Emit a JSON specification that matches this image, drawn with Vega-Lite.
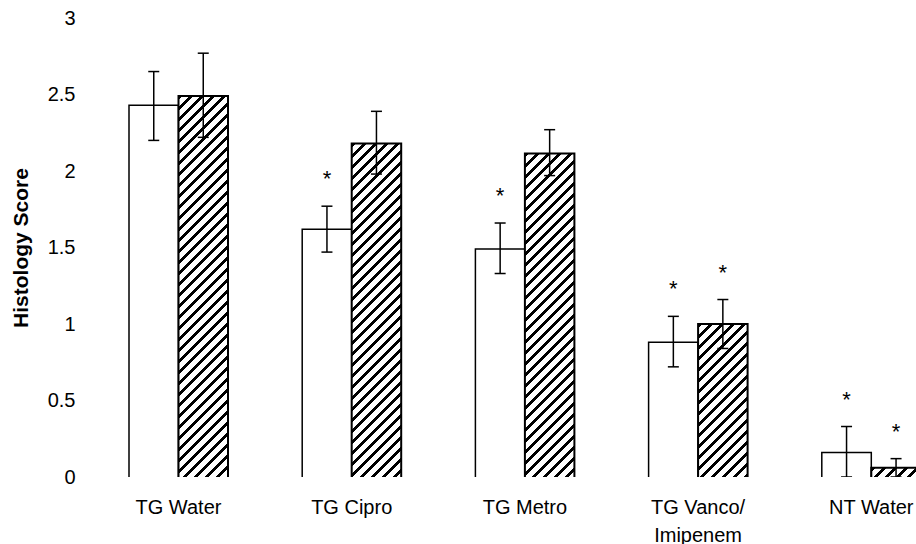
{
  "$schema": "https://vega.github.io/schema/vega-lite/v6.json",
  "width": 825,
  "height": 459,
  "autosize": {"type": "none"},
  "padding": {"left": 91, "top": 18, "right": 0, "bottom": 67},
  "background": "white",
  "config": {"view": {"stroke": null}, "font": "Liberation Sans"},
  "data": {"values": [
    {"cat": "TG Water", "grp": "A", "mean": 2.43, "lo": 2.2, "hi": 2.65, "sig": ""},
    {"cat": "TG Water", "grp": "B", "mean": 2.49, "lo": 2.22, "hi": 2.77, "sig": ""},
    {"cat": "TG Cipro", "grp": "A", "mean": 1.62, "lo": 1.47, "hi": 1.77, "sig": "*"},
    {"cat": "TG Cipro", "grp": "B", "mean": 2.18, "lo": 1.98, "hi": 2.39, "sig": ""},
    {"cat": "TG Metro", "grp": "A", "mean": 1.49, "lo": 1.33, "hi": 1.66, "sig": "*"},
    {"cat": "TG Metro", "grp": "B", "mean": 2.115, "lo": 1.97, "hi": 2.27, "sig": ""},
    {"cat": "TG Vanco/Imipenem", "grp": "A", "mean": 0.88, "lo": 0.72, "hi": 1.05, "sig": "*"},
    {"cat": "TG Vanco/Imipenem", "grp": "B", "mean": 1.0, "lo": 0.84, "hi": 1.16, "sig": "*"},
    {"cat": "NT Water", "grp": "A", "mean": 0.16, "lo": 0.0, "hi": 0.33, "sig": "*"},
    {"cat": "NT Water", "grp": "B", "mean": 0.06, "lo": 0.0, "hi": 0.12, "sig": "*"}
  ]},
  "encoding": {
    "x": {
      "field": "cat", "type": "nominal", "sort": null,
      "scale": {"range": [38, 829.8], "paddingInner": 0.4284, "paddingOuter": 0},
      "axis": {
        "title": null, "labelAngle": 0, "labelFontSize": 20, "labelColor": "black",
        "labelPadding": 20, "ticks": false, "domain": false, "grid": false,
        "labelLineHeight": 28,
        "labelExpr": "datum.label === 'TG Vanco/Imipenem' ? ['TG Vanco/', 'Imipenem'] : datum.label"
      }
    },
    "xOffset": {"field": "grp", "type": "nominal", "scale": {"paddingInner": 0, "paddingOuter": 0}}
  },
  "layer": [
    {
      "transform": [{"filter": "datum.grp === 'A'"}],
      "mark": {"type": "bar", "fill": "white", "stroke": "black", "strokeWidth": 1.5, "clip": true},
      "encoding": {
        "y": {
          "field": "mean", "type": "quantitative",
          "scale": {"domain": [0, 3], "nice": false, "zero": false},
          "axis": {
            "values": [0, 0.5, 1, 1.5, 2, 2.5, 3], "format": "~g",
            "title": "Histology Score", "titleFontSize": 21, "titleFontWeight": "bold",
            "titleColor": "black", "titleX": -70, "titleBaseline": "middle",
            "labelFontSize": 20, "labelColor": "black", "labelPadding": 16,
            "ticks": false, "domain": false, "grid": false
          }
        },
        "y2": {"datum": -0.02}
      }
    },
    {
      "transform": [{"filter": "datum.grp === 'B'"}],
      "mark": {"type": "bar", "stroke": "black", "strokeWidth": 2, "clip": true},
      "encoding": {
        "y": {"field": "mean", "type": "quantitative"},
        "y2": {"datum": -0.02},
        "fill": {
          "condition": [
            {"test": "datum.cat === 'TG Water'", "value": {"gradient": "linear", "x1": 0, "y1": 0, "x2": 0.14529, "y2": 1.12711, "stops": [
{"offset":0,"color":"#000"},{"offset":0.01,"color":"#000"},{"offset":0.01,"color":"#fff"},{"offset":0.025,"color":"#fff"},
{"offset":0.025,"color":"#000"},{"offset":0.035,"color":"#000"},{"offset":0.035,"color":"#fff"},{"offset":0.05,"color":"#fff"},
{"offset":0.05,"color":"#000"},{"offset":0.06,"color":"#000"},{"offset":0.06,"color":"#fff"},{"offset":0.075,"color":"#fff"},
{"offset":0.075,"color":"#000"},{"offset":0.085,"color":"#000"},{"offset":0.085,"color":"#fff"},{"offset":0.1,"color":"#fff"},
{"offset":0.1,"color":"#000"},{"offset":0.11,"color":"#000"},{"offset":0.11,"color":"#fff"},{"offset":0.125,"color":"#fff"},
{"offset":0.125,"color":"#000"},{"offset":0.135,"color":"#000"},{"offset":0.135,"color":"#fff"},{"offset":0.15,"color":"#fff"},
{"offset":0.15,"color":"#000"},{"offset":0.16,"color":"#000"},{"offset":0.16,"color":"#fff"},{"offset":0.175,"color":"#fff"},
{"offset":0.175,"color":"#000"},{"offset":0.185,"color":"#000"},{"offset":0.185,"color":"#fff"},{"offset":0.2,"color":"#fff"},
{"offset":0.2,"color":"#000"},{"offset":0.21,"color":"#000"},{"offset":0.21,"color":"#fff"},{"offset":0.225,"color":"#fff"},
{"offset":0.225,"color":"#000"},{"offset":0.235,"color":"#000"},{"offset":0.235,"color":"#fff"},{"offset":0.25,"color":"#fff"},
{"offset":0.25,"color":"#000"},{"offset":0.26,"color":"#000"},{"offset":0.26,"color":"#fff"},{"offset":0.275,"color":"#fff"},
{"offset":0.275,"color":"#000"},{"offset":0.285,"color":"#000"},{"offset":0.285,"color":"#fff"},{"offset":0.3,"color":"#fff"},
{"offset":0.3,"color":"#000"},{"offset":0.31,"color":"#000"},{"offset":0.31,"color":"#fff"},{"offset":0.325,"color":"#fff"},
{"offset":0.325,"color":"#000"},{"offset":0.335,"color":"#000"},{"offset":0.335,"color":"#fff"},{"offset":0.35,"color":"#fff"},
{"offset":0.35,"color":"#000"},{"offset":0.36,"color":"#000"},{"offset":0.36,"color":"#fff"},{"offset":0.375,"color":"#fff"},
{"offset":0.375,"color":"#000"},{"offset":0.385,"color":"#000"},{"offset":0.385,"color":"#fff"},{"offset":0.4,"color":"#fff"},
{"offset":0.4,"color":"#000"},{"offset":0.41,"color":"#000"},{"offset":0.41,"color":"#fff"},{"offset":0.425,"color":"#fff"},
{"offset":0.425,"color":"#000"},{"offset":0.435,"color":"#000"},{"offset":0.435,"color":"#fff"},{"offset":0.45,"color":"#fff"},
{"offset":0.45,"color":"#000"},{"offset":0.46,"color":"#000"},{"offset":0.46,"color":"#fff"},{"offset":0.475,"color":"#fff"},
{"offset":0.475,"color":"#000"},{"offset":0.485,"color":"#000"},{"offset":0.485,"color":"#fff"},{"offset":0.5,"color":"#fff"},
{"offset":0.5,"color":"#000"},{"offset":0.51,"color":"#000"},{"offset":0.51,"color":"#fff"},{"offset":0.525,"color":"#fff"},
{"offset":0.525,"color":"#000"},{"offset":0.535,"color":"#000"},{"offset":0.535,"color":"#fff"},{"offset":0.55,"color":"#fff"},
{"offset":0.55,"color":"#000"},{"offset":0.56,"color":"#000"},{"offset":0.56,"color":"#fff"},{"offset":0.575,"color":"#fff"},
{"offset":0.575,"color":"#000"},{"offset":0.585,"color":"#000"},{"offset":0.585,"color":"#fff"},{"offset":0.6,"color":"#fff"},
{"offset":0.6,"color":"#000"},{"offset":0.61,"color":"#000"},{"offset":0.61,"color":"#fff"},{"offset":0.625,"color":"#fff"},
{"offset":0.625,"color":"#000"},{"offset":0.635,"color":"#000"},{"offset":0.635,"color":"#fff"},{"offset":0.65,"color":"#fff"},
{"offset":0.65,"color":"#000"},{"offset":0.66,"color":"#000"},{"offset":0.66,"color":"#fff"},{"offset":0.675,"color":"#fff"},
{"offset":0.675,"color":"#000"},{"offset":0.685,"color":"#000"},{"offset":0.685,"color":"#fff"},{"offset":0.7,"color":"#fff"},
{"offset":0.7,"color":"#000"},{"offset":0.71,"color":"#000"},{"offset":0.71,"color":"#fff"},{"offset":0.725,"color":"#fff"},
{"offset":0.725,"color":"#000"},{"offset":0.735,"color":"#000"},{"offset":0.735,"color":"#fff"},{"offset":0.75,"color":"#fff"},
{"offset":0.75,"color":"#000"},{"offset":0.76,"color":"#000"},{"offset":0.76,"color":"#fff"},{"offset":0.775,"color":"#fff"},
{"offset":0.775,"color":"#000"},{"offset":0.785,"color":"#000"},{"offset":0.785,"color":"#fff"},{"offset":0.8,"color":"#fff"},
{"offset":0.8,"color":"#000"},{"offset":0.81,"color":"#000"},{"offset":0.81,"color":"#fff"},{"offset":0.825,"color":"#fff"},
{"offset":0.825,"color":"#000"},{"offset":0.835,"color":"#000"},{"offset":0.835,"color":"#fff"},{"offset":0.85,"color":"#fff"},
{"offset":0.85,"color":"#000"},{"offset":0.86,"color":"#000"},{"offset":0.86,"color":"#fff"},{"offset":0.875,"color":"#fff"},
{"offset":0.875,"color":"#000"},{"offset":0.885,"color":"#000"},{"offset":0.885,"color":"#fff"},{"offset":0.9,"color":"#fff"},
{"offset":0.9,"color":"#000"},{"offset":0.91,"color":"#000"},{"offset":0.91,"color":"#fff"},{"offset":0.925,"color":"#fff"},
{"offset":0.925,"color":"#000"},{"offset":0.935,"color":"#000"},{"offset":0.935,"color":"#fff"},{"offset":0.95,"color":"#fff"},
{"offset":0.95,"color":"#000"},{"offset":0.96,"color":"#000"},{"offset":0.96,"color":"#fff"},{"offset":0.975,"color":"#fff"},
{"offset":0.975,"color":"#000"},{"offset":0.985,"color":"#000"},{"offset":0.985,"color":"#fff"},{"offset":1,"color":"#fff"}
            ]}},
            {"test": "datum.cat === 'TG Cipro'", "value": {"gradient": "linear", "x1": 0, "y1": 0, "x2": 0.18827, "y2": 1.27988, "stops": [
{"offset":0,"color":"#000"},{"offset":0.01,"color":"#000"},{"offset":0.01,"color":"#fff"},{"offset":0.025,"color":"#fff"},
{"offset":0.025,"color":"#000"},{"offset":0.035,"color":"#000"},{"offset":0.035,"color":"#fff"},{"offset":0.05,"color":"#fff"},
{"offset":0.05,"color":"#000"},{"offset":0.06,"color":"#000"},{"offset":0.06,"color":"#fff"},{"offset":0.075,"color":"#fff"},
{"offset":0.075,"color":"#000"},{"offset":0.085,"color":"#000"},{"offset":0.085,"color":"#fff"},{"offset":0.1,"color":"#fff"},
{"offset":0.1,"color":"#000"},{"offset":0.11,"color":"#000"},{"offset":0.11,"color":"#fff"},{"offset":0.125,"color":"#fff"},
{"offset":0.125,"color":"#000"},{"offset":0.135,"color":"#000"},{"offset":0.135,"color":"#fff"},{"offset":0.15,"color":"#fff"},
{"offset":0.15,"color":"#000"},{"offset":0.16,"color":"#000"},{"offset":0.16,"color":"#fff"},{"offset":0.175,"color":"#fff"},
{"offset":0.175,"color":"#000"},{"offset":0.185,"color":"#000"},{"offset":0.185,"color":"#fff"},{"offset":0.2,"color":"#fff"},
{"offset":0.2,"color":"#000"},{"offset":0.21,"color":"#000"},{"offset":0.21,"color":"#fff"},{"offset":0.225,"color":"#fff"},
{"offset":0.225,"color":"#000"},{"offset":0.235,"color":"#000"},{"offset":0.235,"color":"#fff"},{"offset":0.25,"color":"#fff"},
{"offset":0.25,"color":"#000"},{"offset":0.26,"color":"#000"},{"offset":0.26,"color":"#fff"},{"offset":0.275,"color":"#fff"},
{"offset":0.275,"color":"#000"},{"offset":0.285,"color":"#000"},{"offset":0.285,"color":"#fff"},{"offset":0.3,"color":"#fff"},
{"offset":0.3,"color":"#000"},{"offset":0.31,"color":"#000"},{"offset":0.31,"color":"#fff"},{"offset":0.325,"color":"#fff"},
{"offset":0.325,"color":"#000"},{"offset":0.335,"color":"#000"},{"offset":0.335,"color":"#fff"},{"offset":0.35,"color":"#fff"},
{"offset":0.35,"color":"#000"},{"offset":0.36,"color":"#000"},{"offset":0.36,"color":"#fff"},{"offset":0.375,"color":"#fff"},
{"offset":0.375,"color":"#000"},{"offset":0.385,"color":"#000"},{"offset":0.385,"color":"#fff"},{"offset":0.4,"color":"#fff"},
{"offset":0.4,"color":"#000"},{"offset":0.41,"color":"#000"},{"offset":0.41,"color":"#fff"},{"offset":0.425,"color":"#fff"},
{"offset":0.425,"color":"#000"},{"offset":0.435,"color":"#000"},{"offset":0.435,"color":"#fff"},{"offset":0.45,"color":"#fff"},
{"offset":0.45,"color":"#000"},{"offset":0.46,"color":"#000"},{"offset":0.46,"color":"#fff"},{"offset":0.475,"color":"#fff"},
{"offset":0.475,"color":"#000"},{"offset":0.485,"color":"#000"},{"offset":0.485,"color":"#fff"},{"offset":0.5,"color":"#fff"},
{"offset":0.5,"color":"#000"},{"offset":0.51,"color":"#000"},{"offset":0.51,"color":"#fff"},{"offset":0.525,"color":"#fff"},
{"offset":0.525,"color":"#000"},{"offset":0.535,"color":"#000"},{"offset":0.535,"color":"#fff"},{"offset":0.55,"color":"#fff"},
{"offset":0.55,"color":"#000"},{"offset":0.56,"color":"#000"},{"offset":0.56,"color":"#fff"},{"offset":0.575,"color":"#fff"},
{"offset":0.575,"color":"#000"},{"offset":0.585,"color":"#000"},{"offset":0.585,"color":"#fff"},{"offset":0.6,"color":"#fff"},
{"offset":0.6,"color":"#000"},{"offset":0.61,"color":"#000"},{"offset":0.61,"color":"#fff"},{"offset":0.625,"color":"#fff"},
{"offset":0.625,"color":"#000"},{"offset":0.635,"color":"#000"},{"offset":0.635,"color":"#fff"},{"offset":0.65,"color":"#fff"},
{"offset":0.65,"color":"#000"},{"offset":0.66,"color":"#000"},{"offset":0.66,"color":"#fff"},{"offset":0.675,"color":"#fff"},
{"offset":0.675,"color":"#000"},{"offset":0.685,"color":"#000"},{"offset":0.685,"color":"#fff"},{"offset":0.7,"color":"#fff"},
{"offset":0.7,"color":"#000"},{"offset":0.71,"color":"#000"},{"offset":0.71,"color":"#fff"},{"offset":0.725,"color":"#fff"},
{"offset":0.725,"color":"#000"},{"offset":0.735,"color":"#000"},{"offset":0.735,"color":"#fff"},{"offset":0.75,"color":"#fff"},
{"offset":0.75,"color":"#000"},{"offset":0.76,"color":"#000"},{"offset":0.76,"color":"#fff"},{"offset":0.775,"color":"#fff"},
{"offset":0.775,"color":"#000"},{"offset":0.785,"color":"#000"},{"offset":0.785,"color":"#fff"},{"offset":0.8,"color":"#fff"},
{"offset":0.8,"color":"#000"},{"offset":0.81,"color":"#000"},{"offset":0.81,"color":"#fff"},{"offset":0.825,"color":"#fff"},
{"offset":0.825,"color":"#000"},{"offset":0.835,"color":"#000"},{"offset":0.835,"color":"#fff"},{"offset":0.85,"color":"#fff"},
{"offset":0.85,"color":"#000"},{"offset":0.86,"color":"#000"},{"offset":0.86,"color":"#fff"},{"offset":0.875,"color":"#fff"},
{"offset":0.875,"color":"#000"},{"offset":0.885,"color":"#000"},{"offset":0.885,"color":"#fff"},{"offset":0.9,"color":"#fff"}
            ]}},
            {"test": "datum.cat === 'TG Metro'", "value": {"gradient": "linear", "x1": 0, "y1": 0, "x2": 0.1996, "y2": 1.31696, "stops": [
{"offset":0,"color":"#000"},{"offset":0.01,"color":"#000"},{"offset":0.01,"color":"#fff"},{"offset":0.025,"color":"#fff"},
{"offset":0.025,"color":"#000"},{"offset":0.035,"color":"#000"},{"offset":0.035,"color":"#fff"},{"offset":0.05,"color":"#fff"},
{"offset":0.05,"color":"#000"},{"offset":0.06,"color":"#000"},{"offset":0.06,"color":"#fff"},{"offset":0.075,"color":"#fff"},
{"offset":0.075,"color":"#000"},{"offset":0.085,"color":"#000"},{"offset":0.085,"color":"#fff"},{"offset":0.1,"color":"#fff"},
{"offset":0.1,"color":"#000"},{"offset":0.11,"color":"#000"},{"offset":0.11,"color":"#fff"},{"offset":0.125,"color":"#fff"},
{"offset":0.125,"color":"#000"},{"offset":0.135,"color":"#000"},{"offset":0.135,"color":"#fff"},{"offset":0.15,"color":"#fff"},
{"offset":0.15,"color":"#000"},{"offset":0.16,"color":"#000"},{"offset":0.16,"color":"#fff"},{"offset":0.175,"color":"#fff"},
{"offset":0.175,"color":"#000"},{"offset":0.185,"color":"#000"},{"offset":0.185,"color":"#fff"},{"offset":0.2,"color":"#fff"},
{"offset":0.2,"color":"#000"},{"offset":0.21,"color":"#000"},{"offset":0.21,"color":"#fff"},{"offset":0.225,"color":"#fff"},
{"offset":0.225,"color":"#000"},{"offset":0.235,"color":"#000"},{"offset":0.235,"color":"#fff"},{"offset":0.25,"color":"#fff"},
{"offset":0.25,"color":"#000"},{"offset":0.26,"color":"#000"},{"offset":0.26,"color":"#fff"},{"offset":0.275,"color":"#fff"},
{"offset":0.275,"color":"#000"},{"offset":0.285,"color":"#000"},{"offset":0.285,"color":"#fff"},{"offset":0.3,"color":"#fff"},
{"offset":0.3,"color":"#000"},{"offset":0.31,"color":"#000"},{"offset":0.31,"color":"#fff"},{"offset":0.325,"color":"#fff"},
{"offset":0.325,"color":"#000"},{"offset":0.335,"color":"#000"},{"offset":0.335,"color":"#fff"},{"offset":0.35,"color":"#fff"},
{"offset":0.35,"color":"#000"},{"offset":0.36,"color":"#000"},{"offset":0.36,"color":"#fff"},{"offset":0.375,"color":"#fff"},
{"offset":0.375,"color":"#000"},{"offset":0.385,"color":"#000"},{"offset":0.385,"color":"#fff"},{"offset":0.4,"color":"#fff"},
{"offset":0.4,"color":"#000"},{"offset":0.41,"color":"#000"},{"offset":0.41,"color":"#fff"},{"offset":0.425,"color":"#fff"},
{"offset":0.425,"color":"#000"},{"offset":0.435,"color":"#000"},{"offset":0.435,"color":"#fff"},{"offset":0.45,"color":"#fff"},
{"offset":0.45,"color":"#000"},{"offset":0.46,"color":"#000"},{"offset":0.46,"color":"#fff"},{"offset":0.475,"color":"#fff"},
{"offset":0.475,"color":"#000"},{"offset":0.485,"color":"#000"},{"offset":0.485,"color":"#fff"},{"offset":0.5,"color":"#fff"},
{"offset":0.5,"color":"#000"},{"offset":0.51,"color":"#000"},{"offset":0.51,"color":"#fff"},{"offset":0.525,"color":"#fff"},
{"offset":0.525,"color":"#000"},{"offset":0.535,"color":"#000"},{"offset":0.535,"color":"#fff"},{"offset":0.55,"color":"#fff"},
{"offset":0.55,"color":"#000"},{"offset":0.56,"color":"#000"},{"offset":0.56,"color":"#fff"},{"offset":0.575,"color":"#fff"},
{"offset":0.575,"color":"#000"},{"offset":0.585,"color":"#000"},{"offset":0.585,"color":"#fff"},{"offset":0.6,"color":"#fff"},
{"offset":0.6,"color":"#000"},{"offset":0.61,"color":"#000"},{"offset":0.61,"color":"#fff"},{"offset":0.625,"color":"#fff"},
{"offset":0.625,"color":"#000"},{"offset":0.635,"color":"#000"},{"offset":0.635,"color":"#fff"},{"offset":0.65,"color":"#fff"},
{"offset":0.65,"color":"#000"},{"offset":0.66,"color":"#000"},{"offset":0.66,"color":"#fff"},{"offset":0.675,"color":"#fff"},
{"offset":0.675,"color":"#000"},{"offset":0.685,"color":"#000"},{"offset":0.685,"color":"#fff"},{"offset":0.7,"color":"#fff"},
{"offset":0.7,"color":"#000"},{"offset":0.71,"color":"#000"},{"offset":0.71,"color":"#fff"},{"offset":0.725,"color":"#fff"},
{"offset":0.725,"color":"#000"},{"offset":0.735,"color":"#000"},{"offset":0.735,"color":"#fff"},{"offset":0.75,"color":"#fff"},
{"offset":0.75,"color":"#000"},{"offset":0.76,"color":"#000"},{"offset":0.76,"color":"#fff"},{"offset":0.775,"color":"#fff"},
{"offset":0.775,"color":"#000"},{"offset":0.785,"color":"#000"},{"offset":0.785,"color":"#fff"},{"offset":0.8,"color":"#fff"},
{"offset":0.8,"color":"#000"},{"offset":0.81,"color":"#000"},{"offset":0.81,"color":"#fff"},{"offset":0.825,"color":"#fff"},
{"offset":0.825,"color":"#000"},{"offset":0.835,"color":"#000"},{"offset":0.835,"color":"#fff"},{"offset":0.85,"color":"#fff"},
{"offset":0.85,"color":"#000"},{"offset":0.86,"color":"#000"},{"offset":0.86,"color":"#fff"},{"offset":0.875,"color":"#fff"}
            ]}},
            {"test": "datum.cat === 'TG Vanco/Imipenem'", "value": {"gradient": "linear", "x1": 0, "y1": 0, "x2": 0.81311, "y2": 2.56252, "stops": [
{"offset":0,"color":"#000"},{"offset":0.01,"color":"#000"},{"offset":0.01,"color":"#fff"},{"offset":0.025,"color":"#fff"},
{"offset":0.025,"color":"#000"},{"offset":0.035,"color":"#000"},{"offset":0.035,"color":"#fff"},{"offset":0.05,"color":"#fff"},
{"offset":0.05,"color":"#000"},{"offset":0.06,"color":"#000"},{"offset":0.06,"color":"#fff"},{"offset":0.075,"color":"#fff"},
{"offset":0.075,"color":"#000"},{"offset":0.085,"color":"#000"},{"offset":0.085,"color":"#fff"},{"offset":0.1,"color":"#fff"},
{"offset":0.1,"color":"#000"},{"offset":0.11,"color":"#000"},{"offset":0.11,"color":"#fff"},{"offset":0.125,"color":"#fff"},
{"offset":0.125,"color":"#000"},{"offset":0.135,"color":"#000"},{"offset":0.135,"color":"#fff"},{"offset":0.15,"color":"#fff"},
{"offset":0.15,"color":"#000"},{"offset":0.16,"color":"#000"},{"offset":0.16,"color":"#fff"},{"offset":0.175,"color":"#fff"},
{"offset":0.175,"color":"#000"},{"offset":0.185,"color":"#000"},{"offset":0.185,"color":"#fff"},{"offset":0.2,"color":"#fff"},
{"offset":0.2,"color":"#000"},{"offset":0.21,"color":"#000"},{"offset":0.21,"color":"#fff"},{"offset":0.225,"color":"#fff"},
{"offset":0.225,"color":"#000"},{"offset":0.235,"color":"#000"},{"offset":0.235,"color":"#fff"},{"offset":0.25,"color":"#fff"},
{"offset":0.25,"color":"#000"},{"offset":0.26,"color":"#000"},{"offset":0.26,"color":"#fff"},{"offset":0.275,"color":"#fff"},
{"offset":0.275,"color":"#000"},{"offset":0.285,"color":"#000"},{"offset":0.285,"color":"#fff"},{"offset":0.3,"color":"#fff"},
{"offset":0.3,"color":"#000"},{"offset":0.31,"color":"#000"},{"offset":0.31,"color":"#fff"},{"offset":0.325,"color":"#fff"},
{"offset":0.325,"color":"#000"},{"offset":0.335,"color":"#000"},{"offset":0.335,"color":"#fff"},{"offset":0.35,"color":"#fff"},
{"offset":0.35,"color":"#000"},{"offset":0.36,"color":"#000"},{"offset":0.36,"color":"#fff"},{"offset":0.375,"color":"#fff"},
{"offset":0.375,"color":"#000"},{"offset":0.385,"color":"#000"},{"offset":0.385,"color":"#fff"},{"offset":0.4,"color":"#fff"},
{"offset":0.4,"color":"#000"},{"offset":0.41,"color":"#000"},{"offset":0.41,"color":"#fff"},{"offset":0.425,"color":"#fff"},
{"offset":0.425,"color":"#000"},{"offset":0.435,"color":"#000"},{"offset":0.435,"color":"#fff"},{"offset":0.45,"color":"#fff"},
{"offset":0.45,"color":"#000"},{"offset":0.46,"color":"#000"},{"offset":0.46,"color":"#fff"},{"offset":0.475,"color":"#fff"}
            ]}},
            {"test": "datum.cat === 'NT Water'", "value": {"gradient": "linear", "x1": 0, "y1": 0, "x2": 8.3815, "y2": 2.0623, "stops": [
{"offset":0,"color":"#000"},{"offset":0.01,"color":"#000"},{"offset":0.01,"color":"#fff"},{"offset":0.025,"color":"#fff"},
{"offset":0.025,"color":"#000"},{"offset":0.035,"color":"#000"},{"offset":0.035,"color":"#fff"},{"offset":0.05,"color":"#fff"},
{"offset":0.05,"color":"#000"},{"offset":0.06,"color":"#000"},{"offset":0.06,"color":"#fff"},{"offset":0.075,"color":"#fff"},
{"offset":0.075,"color":"#000"},{"offset":0.085,"color":"#000"},{"offset":0.085,"color":"#fff"},{"offset":0.1,"color":"#fff"},
{"offset":0.1,"color":"#000"},{"offset":0.11,"color":"#000"},{"offset":0.11,"color":"#fff"},{"offset":0.125,"color":"#fff"},
{"offset":0.125,"color":"#000"},{"offset":0.135,"color":"#000"},{"offset":0.135,"color":"#fff"},{"offset":0.15,"color":"#fff"}
            ]}}
          ],
          "value": "white"
        }
      }
    },
    {
      "mark": {"type": "rule", "strokeWidth": 1.5, "color": "black", "clip": true},
      "encoding": {
        "y": {"field": "lo", "type": "quantitative"},
        "y2": {"field": "hi"}
      }
    },
    {
      "mark": {"type": "tick", "size": 11, "thickness": 1.5, "color": "black", "opacity": 1, "clip": true},
      "encoding": {"y": {"field": "lo", "type": "quantitative"}}
    },
    {
      "mark": {"type": "tick", "size": 11, "thickness": 1.5, "color": "black", "opacity": 1, "clip": true},
      "encoding": {"y": {"field": "hi", "type": "quantitative"}}
    },
    {
      "mark": {"type": "text", "fontSize": 22, "baseline": "alphabetic", "dy": -20, "color": "black"},
      "encoding": {
        "y": {"field": "hi", "type": "quantitative"},
        "text": {"field": "sig"}
      }
    }
  ]
}
